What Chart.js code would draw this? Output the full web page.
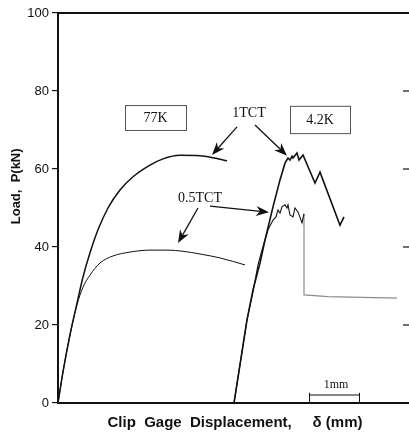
<!DOCTYPE html>
<html lang="en">
<head>
  <meta charset="UTF-8" />
  <title>Load vs clip gage displacement</title>
  <script src="https://cdn.jsdelivr.net/npm/chart.js"></script>
  <style>
    *{margin:0;padding:0;box-sizing:border-box}
    html,body{width:409px;height:440px;overflow:hidden;background:#fff}
    #wrap{width:412px;height:440px}
  </style>
</head>
<body>
  <div id="wrap"><canvas id="chart" width="412" height="440"></canvas></div>

  <script>
    // 77K, 1TCT specimen
    const disp1T77 = [0, 0.1, 0.24, 0.38, 0.5, 0.64, 0.8, 1.0, 1.24, 1.5, 1.84, 2.1, 2.44, 2.84, 3.1, 3.38];
    const load1T77 = [0, 8.0, 17.5, 25.6, 32.3, 38.5, 44.4, 50.0, 54.6, 58.0, 61.0, 62.6, 63.5, 63.4, 62.9, 62.1];

    // 77K, 0.5TCT specimen
    const disp05T77 = [0, 0.1, 0.24, 0.38, 0.5, 0.64, 0.84, 1.1, 1.44, 1.84, 2.2, 2.5, 2.84, 3.24, 3.74];
    const load05T77 = [0, 8.0, 17.5, 25.2, 29.7, 32.8, 35.9, 37.7, 38.7, 39.2, 39.2, 38.9, 38.2, 37.2, 35.4];

    // 4.2K, 1TCT specimen (serrated)
    const disp1T4 = [3.52, 3.78, 3.90, 4.04, 4.14, 4.30, 4.44, 4.54, 4.60, 4.64, 4.68, 4.70, 4.78, 4.82, 4.90, 5.14, 5.24, 5.64, 5.72];
    const load1T4 = [0, 21.3, 29.0, 35.9, 41.8, 50.3, 57.2, 61.5, 62.8, 62.3, 63.3, 62.8, 64.1, 62.3, 63.6, 56.4, 59.2, 45.6, 47.7];

    // 4.2K, 0.5TCT specimen (serrated, then pop-in drop)
    const disp05T4 = [3.52, 3.78, 3.90, 4.00, 4.08, 4.20, 4.30, 4.36, 4.40, 4.44, 4.48, 4.54, 4.58, 4.60, 4.64, 4.70, 4.74, 4.80, 4.88, 4.92];
    const load05T4 = [0, 21.3, 28.5, 35.4, 39.2, 44.4, 46.9, 47.7, 49.5, 48.7, 50.3, 50.8, 50.0, 50.8, 48.2, 47.7, 50.0, 49.0, 46.2, 48.5];
    const dispDrop = [4.92, 4.92, 5.4, 6.78];
    const loadDrop = [48.5, 27.7, 27.3, 26.9];

    const yTicks = [0, 20, 40, 60, 80, 100];

    // annotation placement, in data units
    const boxes = [
      {text: '77K', x0: 1.34, x1: 2.56, y0: 70.0, y1: 76.4},
      {text: '4.2K', x0: 4.64, x1: 5.84, y0: 69.2, y1: 76.2}
    ];
    const labels = [
      {text: '1TCT', x: 3.82, y: 74.4},
      {text: '0.5TCT', x: 2.84, y: 52.6}
    ];
    const arrows = [
      [3.58, 70.8, 3.08, 63.6],
      [3.94, 71.3, 4.58, 63.4],
      [3.04, 50.5, 4.22, 48.9],
      [2.80, 50.0, 2.40, 41.0]
    ];
    const scaleBar = {x0: 5.02, len: 1, y: 2.05, tick: 2.6, label: '1mm', labelY: 4.6};

    const pts = (xs, ys) => xs.map((x, i) => ({x: x, y: ys[i]}));
    const ink = '#111';

    function arrow(ctx, x1, y1, x2, y2) {
      const a = Math.atan2(y2 - y1, x2 - x1);
      const hl = 13, hw = 5;
      ctx.beginPath();
      ctx.moveTo(x1, y1);
      ctx.lineTo(x2 - Math.cos(a) * 6, y2 - Math.sin(a) * 6);
      ctx.stroke();
      ctx.save();
      ctx.translate(x2, y2);
      ctx.rotate(a);
      ctx.beginPath();
      ctx.moveTo(0, 0);
      ctx.lineTo(-hl, -hw);
      ctx.lineTo(-hl + 4, 0);
      ctx.lineTo(-hl, hw);
      ctx.closePath();
      ctx.fill();
      ctx.restore();
    }

    const extras = {
      id: 'extras',
      afterDraw(chart) {
        const {ctx, chartArea: ca, scales: {x, y}} = chart;
        ctx.save();
        ctx.strokeStyle = ink;
        ctx.fillStyle = ink;

        // top frame line
        ctx.lineWidth = 2;
        ctx.beginPath();
        ctx.moveTo(ca.left, ca.top);
        ctx.lineTo(ca.right, ca.top);
        ctx.stroke();

        // inward ticks on the right side
        ctx.lineWidth = 1.2;
        y.ticks.forEach(t => {
          if (t.value <= 0 || t.value >= 100) return;
          const py = y.getPixelForValue(t.value);
          ctx.beginPath();
          ctx.moveTo(ca.right - 9, py);
          ctx.lineTo(ca.right, py);
          ctx.stroke();
        });

        // boxed temperature labels
        ctx.font = '14px "Liberation Serif", "DejaVu Serif", serif';
        ctx.textAlign = 'center';
        ctx.textBaseline = 'middle';
        boxes.forEach(b => {
          const l = x.getPixelForValue(b.x0), r = x.getPixelForValue(b.x1);
          const t = y.getPixelForValue(b.y1), bt = y.getPixelForValue(b.y0);
          ctx.strokeStyle = '#555';
          ctx.lineWidth = 1;
          ctx.strokeRect(l + 0.5, t + 0.5, r - l, bt - t);
          ctx.fillText(b.text, (l + r) / 2, (t + bt) / 2 + 1);
        });
        labels.forEach(lb => ctx.fillText(lb.text, x.getPixelForValue(lb.x), y.getPixelForValue(lb.y)));

        // arrows
        ctx.strokeStyle = ink;
        ctx.lineWidth = 1.3;
        arrows.forEach(a => arrow(ctx,
          x.getPixelForValue(a[0]), y.getPixelForValue(a[1]),
          x.getPixelForValue(a[2]), y.getPixelForValue(a[3])));

        // 1 mm scale bar
        const bx0 = x.getPixelForValue(scaleBar.x0);
        const bx1 = x.getPixelForValue(scaleBar.x0 + scaleBar.len);
        const by = y.getPixelForValue(scaleBar.y);
        const b0 = y.getPixelForValue(0), bt = y.getPixelForValue(scaleBar.tick);
        ctx.lineWidth = 1;
        ctx.beginPath();
        ctx.moveTo(bx0, by); ctx.lineTo(bx1, by);
        ctx.moveTo(bx0 + 0.5, bt); ctx.lineTo(bx0 + 0.5, b0);
        ctx.moveTo(bx1 + 0.5, bt); ctx.lineTo(bx1 + 0.5, b0);
        ctx.stroke();
        ctx.font = '12px "Liberation Serif", "DejaVu Serif", serif';
        ctx.fillText(scaleBar.label, (bx0 + bx1) / 2 + 2, y.getPixelForValue(scaleBar.labelY));
        ctx.restore();
      }
    };

    const line = (data, width, smooth, color) => ({
      data: data, showLine: true, pointRadius: 0, borderColor: color || ink,
      borderWidth: width, fill: false,
      cubicInterpolationMode: smooth ? 'monotone' : 'default', tension: 0
    });

    new Chart(document.getElementById('chart'), {
      type: 'scatter',
      data: {
        datasets: [
          line(pts(disp1T77, load1T77), 1.5, true),
          line(pts(disp05T77, load05T77), 1, true),
          line(pts(disp1T4, load1T4), 1.6, false),
          line(pts(disp05T4, load05T4), 1.1, false),
          line(pts(dispDrop, loadDrop), 1.2, false, '#8c8c8c')
        ]
      },
      options: {
        responsive: false,
        animation: false,
        devicePixelRatio: 1,
        layout: {padding: {top: 13, left: 0, right: 0, bottom: 0}},
        plugins: {legend: {display: false}, tooltip: {enabled: false}},
        scales: {
          x: {
            type: 'linear', min: 0, max: 7.08,
            grid: {display: false},
            border: {display: true, color: ink, width: 2},
            ticks: {display: false},
            title: {
              display: true,
              text: 'Clip  Gage  Displacement,     \u03b4 (mm)',
              color: ink,
              font: {family: 'Arial, "Liberation Sans", sans-serif', size: 15, weight: 'bold'},
              padding: {top: 0, bottom: 8}
            },
            afterFit: s => { s.height = 37; }
          },
          y: {
            min: 0, max: 100,
            afterBuildTicks: s => { s.ticks = yTicks.map(v => ({value: v})); },
            grid: {drawOnChartArea: false, drawTicks: true, tickLength: 6, color: ink, lineWidth: 1.2},
            border: {display: true, color: ink, width: 2},
            ticks: {
              color: ink, padding: 3,
              font: {family: 'Arial, "Liberation Sans", sans-serif', size: 13}
            },
            title: {
              display: true,
              text: '            Load,  P(kN)',
              color: ink,
              font: {family: 'Arial, "Liberation Sans", sans-serif', size: 13, weight: 'bold'},
              padding: {top: 9, bottom: 9}
            },
            afterFit: s => { s.width = 58; }
          }
        }
      },
      plugins: [extras]
    });
  </script>
</body>
</html>
